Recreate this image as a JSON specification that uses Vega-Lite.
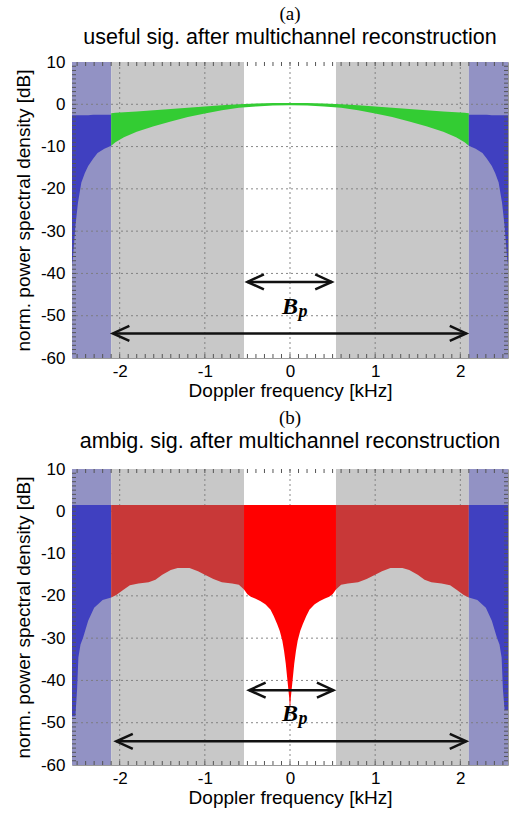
{
  "$schema": "https://vega.github.io/schema/vega-lite/v6.json",
  "background": "white",
  "padding": {"left": 13, "top": 4, "right": 4, "bottom": 2},
  "spacing": 7,
  "config": {
    "view": {"stroke": "#9a9a9a", "strokeWidth": 1},
    "group": {"strokeForeground": true},
    "axis": {"labelFont": "Liberation Sans", "titleFont": "Liberation Sans", "labelColor": "#000", "titleColor": "#000", "titleFontWeight": "normal"}
  },
  "datasets": {
    "bands": [
      {"a": -2.56, "b": -2.1, "k": "band"},
      {"a": -2.1, "b": -0.54, "k": "gray"},
      {"a": -0.54, "b": 0.54, "k": "white"},
      {"a": 0.54, "b": 2.1, "k": "gray"},
      {"a": 2.1, "b": 2.56, "k": "band"}
    ],
    "gridX": [{"v": -2}, {"v": -1}, {"v": 0}, {"v": 1}, {"v": 2}],
    "gridY": [{"v": -50}, {"v": -40}, {"v": -30}, {"v": -20}, {"v": -10}, {"v": 0}],
    "xt": [{"v":-2.5},{"v":-2.4},{"v":-2.3},{"v":-2.2},{"v":-2.1},{"v":-2},{"v":-1.9},{"v":-1.8},{"v":-1.7},{"v":-1.6},{"v":-1.5},{"v":-1.4},{"v":-1.3},{"v":-1.2},{"v":-1.1},{"v":-1},{"v":-0.9},{"v":-0.8},{"v":-0.7},{"v":-0.6},{"v":-0.5},{"v":-0.4},{"v":-0.3},{"v":-0.2},{"v":-0.1},{"v":0},{"v":0.1},{"v":0.2},{"v":0.3},{"v":0.4},{"v":0.5},{"v":0.6},{"v":0.7},{"v":0.8},{"v":0.9},{"v":1},{"v":1.1},{"v":1.2},{"v":1.3},{"v":1.4},{"v":1.5},{"v":1.6},{"v":1.7},{"v":1.8},{"v":1.9},{"v":2},{"v":2.1},{"v":2.2},{"v":2.3},{"v":2.4},{"v":2.5}],
    "yt": [{"v":-59},{"v":-58},{"v":-57},{"v":-56},{"v":-55},{"v":-54},{"v":-53},{"v":-52},{"v":-51},{"v":-50},{"v":-49},{"v":-48},{"v":-47},{"v":-46},{"v":-45},{"v":-44},{"v":-43},{"v":-42},{"v":-41},{"v":-40},{"v":-39},{"v":-38},{"v":-37},{"v":-36},{"v":-35},{"v":-34},{"v":-33},{"v":-32},{"v":-31},{"v":-30},{"v":-29},{"v":-28},{"v":-27},{"v":-26},{"v":-25},{"v":-24},{"v":-23},{"v":-22},{"v":-21},{"v":-20},{"v":-19},{"v":-18},{"v":-17},{"v":-16},{"v":-15},{"v":-14},{"v":-13},{"v":-12},{"v":-11},{"v":-10},{"v":-9},{"v":-8},{"v":-7},{"v":-6},{"v":-5},{"v":-4},{"v":-3},{"v":-2},{"v":-1},{"v":0},{"v":1},{"v":2},{"v":3},{"v":4},{"v":5},{"v":6},{"v":7},{"v":8},{"v":9}],
    "sigA": [
      {"f": -2.56, "hi": -2.6, "lo": -38, "s": "L"},
      {"f": -2.55, "hi": -2.6, "lo": -36.6, "s": "L"},
      {"f": -2.52, "hi": -2.6, "lo": -28.8, "s": "L"},
      {"f": -2.49, "hi": -2.6, "lo": -23.3, "s": "L"},
      {"f": -2.45, "hi": -2.6, "lo": -18.5, "s": "L"},
      {"f": -2.41, "hi": -2.6, "lo": -16.3, "s": "L"},
      {"f": -2.37, "hi": -2.6, "lo": -14.6, "s": "L"},
      {"f": -2.31, "hi": -2.5, "lo": -12.8, "s": "L"},
      {"f": -2.26, "hi": -2.5, "lo": -11.5, "s": "L"},
      {"f": -2.18, "hi": -2.5, "lo": -10.5, "s": "L"},
      {"f": -2.1, "hi": -2.5, "lo": -9.8, "s": "L"},
      {"f": -2.1, "hi": -2.1, "lo": -9.8, "s": "G"},
      {"f": -2.05, "hi": -2.0, "lo": -9.0, "s": "G"},
      {"f": -1.95, "hi": -1.9, "lo": -7.8, "s": "G"},
      {"f": -1.8, "hi": -1.7, "lo": -6.5, "s": "G"},
      {"f": -1.6, "hi": -1.4, "lo": -5.2, "s": "G"},
      {"f": -1.4, "hi": -1.1, "lo": -4.1, "s": "G"},
      {"f": -1.2, "hi": -0.8, "lo": -3.0, "s": "G"},
      {"f": -1.0, "hi": -0.5, "lo": -2.2, "s": "G"},
      {"f": -0.8, "hi": -0.2, "lo": -1.4, "s": "G"},
      {"f": -0.6, "hi": 0.0, "lo": -0.8, "s": "G"},
      {"f": -0.4, "hi": 0.2, "lo": -0.5, "s": "G"},
      {"f": -0.2, "hi": 0.3, "lo": -0.3, "s": "G"},
      {"f": 0, "hi": 0.3, "lo": -0.2, "s": "G"},
      {"f": 0.2, "hi": 0.3, "lo": -0.3, "s": "G"},
      {"f": 0.4, "hi": 0.2, "lo": -0.5, "s": "G"},
      {"f": 0.6, "hi": 0.0, "lo": -0.8, "s": "G"},
      {"f": 0.8, "hi": -0.2, "lo": -1.4, "s": "G"},
      {"f": 1.0, "hi": -0.5, "lo": -2.2, "s": "G"},
      {"f": 1.2, "hi": -0.8, "lo": -3.0, "s": "G"},
      {"f": 1.4, "hi": -1.1, "lo": -4.1, "s": "G"},
      {"f": 1.6, "hi": -1.4, "lo": -5.2, "s": "G"},
      {"f": 1.8, "hi": -1.7, "lo": -6.5, "s": "G"},
      {"f": 1.95, "hi": -1.9, "lo": -7.8, "s": "G"},
      {"f": 2.05, "hi": -2.0, "lo": -9.0, "s": "G"},
      {"f": 2.1, "hi": -2.1, "lo": -9.8, "s": "G"},
      {"f": 2.1, "hi": -2.5, "lo": -9.8, "s": "R"},
      {"f": 2.18, "hi": -2.5, "lo": -10.5, "s": "R"},
      {"f": 2.26, "hi": -2.5, "lo": -11.5, "s": "R"},
      {"f": 2.31, "hi": -2.5, "lo": -12.8, "s": "R"},
      {"f": 2.37, "hi": -2.6, "lo": -14.6, "s": "R"},
      {"f": 2.41, "hi": -2.6, "lo": -16.3, "s": "R"},
      {"f": 2.45, "hi": -2.6, "lo": -18.5, "s": "R"},
      {"f": 2.49, "hi": -2.6, "lo": -23.3, "s": "R"},
      {"f": 2.52, "hi": -2.6, "lo": -28.8, "s": "R"},
      {"f": 2.55, "hi": -2.6, "lo": -36.6, "s": "R"},
      {"f": 2.56, "hi": -2.6, "lo": -38, "s": "R"}
    ],
    "sigB": [
      {"f": -2.56, "hi": 1.5, "lo": -48.5, "s": "L"},
      {"f": -2.52, "hi": 1.5, "lo": -48.5, "s": "L"},
      {"f": -2.5, "hi": 1.5, "lo": -42, "s": "L"},
      {"f": -2.485, "hi": 1.5, "lo": -34.6, "s": "L"},
      {"f": -2.46, "hi": 1.5, "lo": -31.5, "s": "L"},
      {"f": -2.43, "hi": 1.5, "lo": -29.9, "s": "L"},
      {"f": -2.37, "hi": 1.5, "lo": -25.9, "s": "L"},
      {"f": -2.3, "hi": 1.5, "lo": -22.8, "s": "L"},
      {"f": -2.2, "hi": 1.5, "lo": -21.0, "s": "L"},
      {"f": -2.1, "hi": 1.5, "lo": -20.4, "s": "L"},
      {"f": -2.1, "hi": 1.5, "lo": -20.4, "s": "D"},
      {"f": -2.04, "hi": 1.5, "lo": -19.8, "s": "D"},
      {"f": -1.96, "hi": 1.5, "lo": -18.6, "s": "D"},
      {"f": -1.88, "hi": 1.5, "lo": -17.5, "s": "D"},
      {"f": -1.78, "hi": 1.5, "lo": -17.1, "s": "D"},
      {"f": -1.66, "hi": 1.5, "lo": -16.8, "s": "D"},
      {"f": -1.58, "hi": 1.5, "lo": -16.2, "s": "D"},
      {"f": -1.5, "hi": 1.5, "lo": -15.0, "s": "D"},
      {"f": -1.4, "hi": 1.5, "lo": -13.9, "s": "D"},
      {"f": -1.32, "hi": 1.5, "lo": -13.4, "s": "D"},
      {"f": -1.18, "hi": 1.5, "lo": -13.4, "s": "D"},
      {"f": -1.08, "hi": 1.5, "lo": -14.2, "s": "D"},
      {"f": -1.0, "hi": 1.5, "lo": -15.0, "s": "D"},
      {"f": -0.9, "hi": 1.5, "lo": -16.0, "s": "D"},
      {"f": -0.8, "hi": 1.5, "lo": -16.8, "s": "D"},
      {"f": -0.68, "hi": 1.5, "lo": -17.1, "s": "D"},
      {"f": -0.6, "hi": 1.5, "lo": -17.4, "s": "D"},
      {"f": -0.54, "hi": 1.5, "lo": -18.5, "s": "D"},
      {"f": -0.54, "hi": 1.5, "lo": -18.5, "s": "C"},
      {"f": -0.5, "hi": 1.5, "lo": -19.6, "s": "C"},
      {"f": -0.46, "hi": 1.5, "lo": -20.2, "s": "C"},
      {"f": -0.41, "hi": 1.5, "lo": -20.6, "s": "C"},
      {"f": -0.35, "hi": 1.5, "lo": -21.2, "s": "C"},
      {"f": -0.29, "hi": 1.5, "lo": -22.0, "s": "C"},
      {"f": -0.23, "hi": 1.5, "lo": -23.2, "s": "C"},
      {"f": -0.19, "hi": 1.5, "lo": -24.8, "s": "C"},
      {"f": -0.15, "hi": 1.5, "lo": -26.7, "s": "C"},
      {"f": -0.12, "hi": 1.5, "lo": -28.3, "s": "C"},
      {"f": -0.09, "hi": 1.5, "lo": -30.6, "s": "C"},
      {"f": -0.07, "hi": 1.5, "lo": -33, "s": "C"},
      {"f": -0.05, "hi": 1.5, "lo": -36, "s": "C"},
      {"f": -0.03, "hi": 1.5, "lo": -40, "s": "C"},
      {"f": -0.01, "hi": 1.5, "lo": -44, "s": "C"},
      {"f": 0, "hi": 1.5, "lo": -47, "s": "C"},
      {"f": 0.01, "hi": 1.5, "lo": -44, "s": "C"},
      {"f": 0.03, "hi": 1.5, "lo": -40, "s": "C"},
      {"f": 0.05, "hi": 1.5, "lo": -36, "s": "C"},
      {"f": 0.07, "hi": 1.5, "lo": -33, "s": "C"},
      {"f": 0.09, "hi": 1.5, "lo": -30.6, "s": "C"},
      {"f": 0.12, "hi": 1.5, "lo": -28.3, "s": "C"},
      {"f": 0.15, "hi": 1.5, "lo": -26.7, "s": "C"},
      {"f": 0.19, "hi": 1.5, "lo": -24.8, "s": "C"},
      {"f": 0.23, "hi": 1.5, "lo": -23.2, "s": "C"},
      {"f": 0.29, "hi": 1.5, "lo": -22.0, "s": "C"},
      {"f": 0.35, "hi": 1.5, "lo": -21.2, "s": "C"},
      {"f": 0.41, "hi": 1.5, "lo": -20.6, "s": "C"},
      {"f": 0.46, "hi": 1.5, "lo": -20.2, "s": "C"},
      {"f": 0.5, "hi": 1.5, "lo": -19.6, "s": "C"},
      {"f": 0.54, "hi": 1.5, "lo": -18.5, "s": "C"},
      {"f": 0.54, "hi": 1.5, "lo": -18.5, "s": "E"},
      {"f": 0.6, "hi": 1.5, "lo": -17.4, "s": "E"},
      {"f": 0.68, "hi": 1.5, "lo": -17.1, "s": "E"},
      {"f": 0.8, "hi": 1.5, "lo": -16.8, "s": "E"},
      {"f": 0.9, "hi": 1.5, "lo": -16.0, "s": "E"},
      {"f": 1.0, "hi": 1.5, "lo": -15.0, "s": "E"},
      {"f": 1.08, "hi": 1.5, "lo": -14.2, "s": "E"},
      {"f": 1.18, "hi": 1.5, "lo": -13.4, "s": "E"},
      {"f": 1.32, "hi": 1.5, "lo": -13.4, "s": "E"},
      {"f": 1.4, "hi": 1.5, "lo": -13.9, "s": "E"},
      {"f": 1.5, "hi": 1.5, "lo": -15.0, "s": "E"},
      {"f": 1.58, "hi": 1.5, "lo": -16.2, "s": "E"},
      {"f": 1.66, "hi": 1.5, "lo": -16.8, "s": "E"},
      {"f": 1.78, "hi": 1.5, "lo": -17.1, "s": "E"},
      {"f": 1.88, "hi": 1.5, "lo": -17.5, "s": "E"},
      {"f": 1.96, "hi": 1.5, "lo": -18.6, "s": "E"},
      {"f": 2.04, "hi": 1.5, "lo": -19.8, "s": "E"},
      {"f": 2.1, "hi": 1.5, "lo": -20.4, "s": "E"},
      {"f": 2.1, "hi": 1.5, "lo": -20.4, "s": "R"},
      {"f": 2.2, "hi": 1.5, "lo": -21.0, "s": "R"},
      {"f": 2.3, "hi": 1.5, "lo": -22.8, "s": "R"},
      {"f": 2.37, "hi": 1.5, "lo": -25.9, "s": "R"},
      {"f": 2.43, "hi": 1.5, "lo": -29.9, "s": "R"},
      {"f": 2.46, "hi": 1.5, "lo": -31.5, "s": "R"},
      {"f": 2.485, "hi": 1.5, "lo": -34.6, "s": "R"},
      {"f": 2.5, "hi": 1.5, "lo": -42, "s": "R"},
      {"f": 2.52, "hi": 1.5, "lo": -47, "s": "R"},
      {"f": 2.56, "hi": 1.5, "lo": -47, "s": "R"}
    ],
    "arrA": [{"x1": -0.5, "x2": 0.49, "y": -42}, {"x1": -2.08, "x2": 2.07, "y": -54.2}],
    "arrB": [{"x1": -0.48, "x2": 0.51, "y": -42.3}, {"x1": -2.04, "x2": 2.07, "y": -54.4}],
    "lab": [{"x": 0, "y": -48}]
  },
  "vconcat": [
    {
      "title": {"text": "(a)", "subtitle": "useful sig. after multichannel reconstruction", "font": "Liberation Serif", "fontSize": 19, "fontWeight": "normal", "color": "#000", "subtitleFont": "Liberation Sans", "subtitleFontSize": 21.5, "subtitleColor": "#000", "subtitlePadding": 3, "anchor": "middle", "frame": "group", "offset": 5},
      "width": 436,
      "height": 296,
      "resolve": {"scale": {"color": "independent"}, "axis": {"x": "independent", "y": "independent"}},
      "layer": [
        {
          "data": {"name": "bands"},
          "mark": {"type": "rect"},
          "encoding": {
            "x": {"field": "a", "type": "quantitative", "scale": {"domain": [-2.56, 2.56], "nice": false, "zero": false}, "axis": null},
            "x2": {"field": "b"},
            "y": {"datum": -60, "type": "quantitative", "scale": {"domain": [-60, 10], "nice": false, "zero": false}, "axis": null},
            "y2": {"datum": 10},
            "color": {"field": "k", "type": "nominal", "scale": {"domain": ["band", "gray", "white"], "range": ["#9292c4", "#c8c8c8", "#ffffff"]}, "legend": null}
          }
        },
        {
          "data": {"name": "gridX"},
          "mark": {"type": "rule", "color": "#7a7a7a", "strokeWidth": 0.9, "strokeDash": [2, 3]},
          "encoding": {
            "x": {"field": "v", "type": "quantitative", "scale": {"domain": [-2.56, 2.56], "nice": false, "zero": false}, "axis": null}
          }
        },
        {
          "data": {"name": "gridY"},
          "mark": {"type": "rule", "color": "#7a7a7a", "strokeWidth": 0.9, "strokeDash": [2, 3]},
          "encoding": {
            "y": {"field": "v", "type": "quantitative", "scale": {"domain": [-60, 10], "nice": false, "zero": false}, "axis": null}
          }
        },
        {
          "data": {"name": "sigA"},
          "mark": {"type": "area", "interpolate": "linear", "opacity": 1},
          "encoding": {
            "x": {"field": "f", "type": "quantitative", "scale": {"domain": [-2.56, 2.56], "nice": false, "zero": false},
              "axis": {"orient": "bottom", "values": [-2, -1, 0, 1, 2], "labelExpr": "'' + datum.value", "labelOverlap": false, "labelFlush": false, "ticks": false, "domain": false, "labelFontSize": 17, "labelPadding": 5, "title": "Doppler frequency [kHz]", "titleFontSize": 19, "titlePadding": 2, "grid": false}},
            "y": {"field": "hi", "type": "quantitative", "stack": null, "scale": {"domain": [-60, 10], "nice": false, "zero": false},
              "axis": {"orient": "left", "values": [-60, -50, -40, -30, -20, -10, 0, 10], "labelExpr": "'' + datum.value", "labelOverlap": false, "labelFlush": false, "ticks": false, "domain": false, "labelFontSize": 17, "labelPadding": 7, "title": "norm. power spectral density [dB]", "titleFontSize": 19, "titlePadding": 7, "grid": false}},
            "y2": {"field": "lo"},
            "color": {"field": "s", "type": "nominal", "scale": {"domain": ["L", "G", "R"], "range": ["#4040c0", "#33cc33", "#4040c0"]}, "legend": null}
          }
        },
        {
          "data": {"name": "xt"},
          "mark": {"type": "tick", "orient": "vertical", "size": 8, "thickness": 1, "color": "#555", "opacity": 1, "clip": true},
          "encoding": {
            "x": {"field": "v", "type": "quantitative", "scale": {"domain": [-2.56, 2.56], "nice": false, "zero": false}, "axis": null},
            "y": {"datum": -60, "type": "quantitative", "scale": {"domain": [-60, 10], "nice": false, "zero": false}, "axis": null}
          }
        },
        {
          "data": {"name": "xt"},
          "mark": {"type": "tick", "orient": "vertical", "size": 8, "thickness": 1, "color": "#555", "opacity": 1, "clip": true},
          "encoding": {
            "x": {"field": "v", "type": "quantitative", "scale": {"domain": [-2.56, 2.56], "nice": false, "zero": false}, "axis": null},
            "y": {"datum": 10, "type": "quantitative", "scale": {"domain": [-60, 10], "nice": false, "zero": false}, "axis": null}
          }
        },
        {
          "data": {"name": "yt"},
          "mark": {"type": "tick", "orient": "horizontal", "size": 8, "thickness": 1, "color": "#555", "opacity": 1, "clip": true},
          "encoding": {
            "y": {"field": "v", "type": "quantitative", "scale": {"domain": [-60, 10], "nice": false, "zero": false}, "axis": null},
            "x": {"datum": -2.56, "type": "quantitative", "scale": {"domain": [-2.56, 2.56], "nice": false, "zero": false}, "axis": null}
          }
        },
        {
          "data": {"name": "yt"},
          "mark": {"type": "tick", "orient": "horizontal", "size": 8, "thickness": 1, "color": "#555", "opacity": 1, "clip": true},
          "encoding": {
            "y": {"field": "v", "type": "quantitative", "scale": {"domain": [-60, 10], "nice": false, "zero": false}, "axis": null},
            "x": {"datum": 2.56, "type": "quantitative", "scale": {"domain": [-2.56, 2.56], "nice": false, "zero": false}, "axis": null}
          }
        },
        {
          "data": {"name": "arrA"},
          "mark": {"type": "rule", "color": "#111", "strokeWidth": 2.5},
          "encoding": {
            "x": {"field": "x1", "type": "quantitative", "scale": {"domain": [-2.56, 2.56], "nice": false, "zero": false}, "axis": null},
            "x2": {"field": "x2"},
            "y": {"field": "y", "type": "quantitative", "scale": {"domain": [-60, 10], "nice": false, "zero": false}, "axis": null}
          }
        },
        {
          "data": {"name": "arrA"},
          "mark": {"type": "point", "shape": "M 2.2 -1 L 0 0 L 2.2 1", "size": 225, "filled": false, "stroke": "#111", "strokeWidth": 2.5, "opacity": 1},
          "encoding": {
            "x": {"field": "x1", "type": "quantitative", "scale": {"domain": [-2.56, 2.56], "nice": false, "zero": false}, "axis": null},
            "y": {"field": "y", "type": "quantitative", "scale": {"domain": [-60, 10], "nice": false, "zero": false}, "axis": null}
          }
        },
        {
          "data": {"name": "arrA"},
          "mark": {"type": "point", "shape": "M -2.2 -1 L 0 0 L -2.2 1", "size": 225, "filled": false, "stroke": "#111", "strokeWidth": 2.5, "opacity": 1},
          "encoding": {
            "x": {"field": "x2", "type": "quantitative", "scale": {"domain": [-2.56, 2.56], "nice": false, "zero": false}, "axis": null},
            "y": {"field": "y", "type": "quantitative", "scale": {"domain": [-60, 10], "nice": false, "zero": false}, "axis": null}
          }
        },
        {
          "data": {"name": "lab"},
          "mark": {"type": "text", "text": "B", "font": "Liberation Serif", "fontStyle": "italic", "fontWeight": "bold", "fontSize": 24, "align": "center", "baseline": "middle", "color": "#000"},
          "encoding": {
            "x": {"field": "x", "type": "quantitative", "scale": {"domain": [-2.56, 2.56], "nice": false, "zero": false}, "axis": null},
            "y": {"field": "y", "type": "quantitative", "scale": {"domain": [-60, 10], "nice": false, "zero": false}, "axis": null}
          }
        },
        {
          "data": {"name": "lab"},
          "mark": {"type": "text", "text": "p", "font": "Liberation Serif", "fontStyle": "italic", "fontWeight": "bold", "fontSize": 18, "align": "center", "baseline": "middle", "dx": 13, "dy": 5, "color": "#000"},
          "encoding": {
            "x": {"field": "x", "type": "quantitative", "scale": {"domain": [-2.56, 2.56], "nice": false, "zero": false}, "axis": null},
            "y": {"field": "y", "type": "quantitative", "scale": {"domain": [-60, 10], "nice": false, "zero": false}, "axis": null}
          }
        }
      ]
    },
    {
      "title": {"text": "(b)", "subtitle": "ambig. sig. after multichannel reconstruction", "font": "Liberation Serif", "fontSize": 19, "fontWeight": "normal", "color": "#000", "subtitleFont": "Liberation Sans", "subtitleFontSize": 21.5, "subtitleColor": "#000", "subtitlePadding": 3, "anchor": "middle", "frame": "group", "offset": 8},
      "width": 436,
      "height": 296,
      "resolve": {"scale": {"color": "independent"}, "axis": {"x": "independent", "y": "independent"}},
      "layer": [
        {
          "data": {"name": "bands"},
          "mark": {"type": "rect"},
          "encoding": {
            "x": {"field": "a", "type": "quantitative", "scale": {"domain": [-2.56, 2.56], "nice": false, "zero": false}, "axis": null},
            "x2": {"field": "b"},
            "y": {"datum": -60, "type": "quantitative", "scale": {"domain": [-60, 10], "nice": false, "zero": false}, "axis": null},
            "y2": {"datum": 10},
            "color": {"field": "k", "type": "nominal", "scale": {"domain": ["band", "gray", "white"], "range": ["#9292c4", "#c8c8c8", "#ffffff"]}, "legend": null}
          }
        },
        {
          "data": {"name": "gridX"},
          "mark": {"type": "rule", "color": "#7a7a7a", "strokeWidth": 0.9, "strokeDash": [2, 3]},
          "encoding": {
            "x": {"field": "v", "type": "quantitative", "scale": {"domain": [-2.56, 2.56], "nice": false, "zero": false}, "axis": null}
          }
        },
        {
          "data": {"name": "gridY"},
          "mark": {"type": "rule", "color": "#7a7a7a", "strokeWidth": 0.9, "strokeDash": [2, 3]},
          "encoding": {
            "y": {"field": "v", "type": "quantitative", "scale": {"domain": [-60, 10], "nice": false, "zero": false}, "axis": null}
          }
        },
        {
          "data": {"name": "sigB"},
          "mark": {"type": "area", "interpolate": "linear", "opacity": 1},
          "encoding": {
            "x": {"field": "f", "type": "quantitative", "scale": {"domain": [-2.56, 2.56], "nice": false, "zero": false},
              "axis": {"orient": "bottom", "values": [-2, -1, 0, 1, 2], "labelExpr": "'' + datum.value", "labelOverlap": false, "labelFlush": false, "ticks": false, "domain": false, "labelFontSize": 17, "labelPadding": 5, "title": "Doppler frequency [kHz]", "titleFontSize": 19, "titlePadding": 2, "grid": false}},
            "y": {"field": "hi", "type": "quantitative", "stack": null, "scale": {"domain": [-60, 10], "nice": false, "zero": false},
              "axis": {"orient": "left", "values": [-60, -50, -40, -30, -20, -10, 0, 10], "labelExpr": "'' + datum.value", "labelOverlap": false, "labelFlush": false, "ticks": false, "domain": false, "labelFontSize": 17, "labelPadding": 7, "title": "norm. power spectral density [dB]", "titleFontSize": 19, "titlePadding": 7, "grid": false}},
            "y2": {"field": "lo"},
            "color": {"field": "s", "type": "nominal", "scale": {"domain": ["L", "D", "C", "E", "R"], "range": ["#4040c0", "#c83838", "#ff0000", "#c83838", "#4040c0"]}, "legend": null}
          }
        },
        {
          "data": {"name": "xt"},
          "mark": {"type": "tick", "orient": "vertical", "size": 8, "thickness": 1, "color": "#555", "opacity": 1, "clip": true},
          "encoding": {
            "x": {"field": "v", "type": "quantitative", "scale": {"domain": [-2.56, 2.56], "nice": false, "zero": false}, "axis": null},
            "y": {"datum": -60, "type": "quantitative", "scale": {"domain": [-60, 10], "nice": false, "zero": false}, "axis": null}
          }
        },
        {
          "data": {"name": "xt"},
          "mark": {"type": "tick", "orient": "vertical", "size": 8, "thickness": 1, "color": "#555", "opacity": 1, "clip": true},
          "encoding": {
            "x": {"field": "v", "type": "quantitative", "scale": {"domain": [-2.56, 2.56], "nice": false, "zero": false}, "axis": null},
            "y": {"datum": 10, "type": "quantitative", "scale": {"domain": [-60, 10], "nice": false, "zero": false}, "axis": null}
          }
        },
        {
          "data": {"name": "yt"},
          "mark": {"type": "tick", "orient": "horizontal", "size": 8, "thickness": 1, "color": "#555", "opacity": 1, "clip": true},
          "encoding": {
            "y": {"field": "v", "type": "quantitative", "scale": {"domain": [-60, 10], "nice": false, "zero": false}, "axis": null},
            "x": {"datum": -2.56, "type": "quantitative", "scale": {"domain": [-2.56, 2.56], "nice": false, "zero": false}, "axis": null}
          }
        },
        {
          "data": {"name": "yt"},
          "mark": {"type": "tick", "orient": "horizontal", "size": 8, "thickness": 1, "color": "#555", "opacity": 1, "clip": true},
          "encoding": {
            "y": {"field": "v", "type": "quantitative", "scale": {"domain": [-60, 10], "nice": false, "zero": false}, "axis": null},
            "x": {"datum": 2.56, "type": "quantitative", "scale": {"domain": [-2.56, 2.56], "nice": false, "zero": false}, "axis": null}
          }
        },
        {
          "data": {"name": "arrB"},
          "mark": {"type": "rule", "color": "#111", "strokeWidth": 2.5},
          "encoding": {
            "x": {"field": "x1", "type": "quantitative", "scale": {"domain": [-2.56, 2.56], "nice": false, "zero": false}, "axis": null},
            "x2": {"field": "x2"},
            "y": {"field": "y", "type": "quantitative", "scale": {"domain": [-60, 10], "nice": false, "zero": false}, "axis": null}
          }
        },
        {
          "data": {"name": "arrB"},
          "mark": {"type": "point", "shape": "M 2.2 -1 L 0 0 L 2.2 1", "size": 225, "filled": false, "stroke": "#111", "strokeWidth": 2.5, "opacity": 1},
          "encoding": {
            "x": {"field": "x1", "type": "quantitative", "scale": {"domain": [-2.56, 2.56], "nice": false, "zero": false}, "axis": null},
            "y": {"field": "y", "type": "quantitative", "scale": {"domain": [-60, 10], "nice": false, "zero": false}, "axis": null}
          }
        },
        {
          "data": {"name": "arrB"},
          "mark": {"type": "point", "shape": "M -2.2 -1 L 0 0 L -2.2 1", "size": 225, "filled": false, "stroke": "#111", "strokeWidth": 2.5, "opacity": 1},
          "encoding": {
            "x": {"field": "x2", "type": "quantitative", "scale": {"domain": [-2.56, 2.56], "nice": false, "zero": false}, "axis": null},
            "y": {"field": "y", "type": "quantitative", "scale": {"domain": [-60, 10], "nice": false, "zero": false}, "axis": null}
          }
        },
        {
          "data": {"name": "lab"},
          "mark": {"type": "text", "text": "B", "font": "Liberation Serif", "fontStyle": "italic", "fontWeight": "bold", "fontSize": 24, "align": "center", "baseline": "middle", "color": "#000"},
          "encoding": {
            "x": {"field": "x", "type": "quantitative", "scale": {"domain": [-2.56, 2.56], "nice": false, "zero": false}, "axis": null},
            "y": {"field": "y", "type": "quantitative", "scale": {"domain": [-60, 10], "nice": false, "zero": false}, "axis": null}
          }
        },
        {
          "data": {"name": "lab"},
          "mark": {"type": "text", "text": "p", "font": "Liberation Serif", "fontStyle": "italic", "fontWeight": "bold", "fontSize": 18, "align": "center", "baseline": "middle", "dx": 13, "dy": 5, "color": "#000"},
          "encoding": {
            "x": {"field": "x", "type": "quantitative", "scale": {"domain": [-2.56, 2.56], "nice": false, "zero": false}, "axis": null},
            "y": {"field": "y", "type": "quantitative", "scale": {"domain": [-60, 10], "nice": false, "zero": false}, "axis": null}
          }
        }
      ]
    }
  ]
}
